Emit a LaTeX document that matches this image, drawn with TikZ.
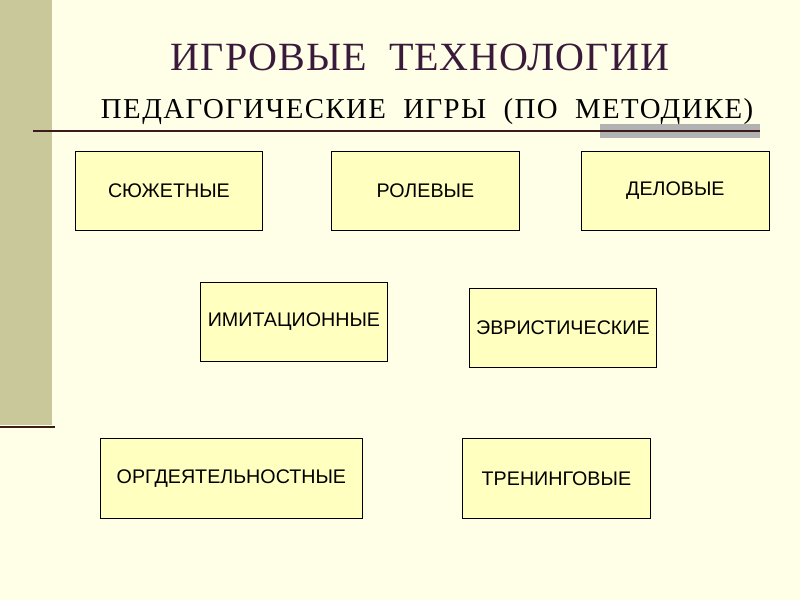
\documentclass[tikz,border=0pt]{standalone}
\usepackage{fontspec}
\setmainfont{Liberation Serif}
\newfontfamily\boxfont{Liberation Sans}
\newfontfamily\spacedfont[LetterSpace=5]{Liberation Serif}
\newfontfamily\titlefont[LetterSpace=2.5]{Liberation Serif}
\definecolor{bgcream}{HTML}{FFFFE8}
\definecolor{stripolive}{HTML}{C8C89A}
\definecolor{linemaroon}{HTML}{3A1A1A}
\definecolor{boxyellow}{HTML}{FFFFC0}
\definecolor{titlepurple}{HTML}{3A1A3A}
\tikzset{
  gamebox/.style={draw=black, fill=boxyellow, line width=0.6pt, inner sep=0pt,
    font=\boxfont\fontsize{14}{16}\selectfont, anchor=north west},
}
\begin{document}
\begin{tikzpicture}[x=0.025cm, y=-0.025cm]
	
	\fill[bgcream] (0,0) rectangle (800,600);
	\useasboundingbox (0,0) rectangle (800,600);
	
	\fill[stripolive] (0,0) rectangle (52,425);
	\draw[linemaroon, line width=1.6pt] (0,427) -- (55,427);
	
	\fill[gray!60] (600,124) rectangle (760,138);
	\draw[linemaroon, line width=1.6pt] (33,131) -- (760,131);
	
	\node[titlepurple, font=\titlefont\fontsize{28.5}{32}\selectfont] (title) at (420,57) {ИГРОВЫЕ\ \ ТЕХНОЛОГИИ};
	\node[font=\spacedfont\fontsize{20.5}{24}\selectfont, anchor=west] (subtitle) at (96,112) {ПЕДАГОГИЧЕСКИЕ\ \ ИГРЫ\ \ (ПО\ \ МЕТОДИКЕ)};
	
	\node[gamebox, minimum width=187*0.025cm, minimum height=79*0.025cm] (plot) at (75,151) {СЮЖЕТНЫЕ};
	\node[gamebox, minimum width=188*0.025cm, minimum height=79*0.025cm] (role) at (331,151) {РОЛЕВЫЕ};
	\node[gamebox, minimum width=188*0.025cm, minimum height=79*0.025cm] (business) at (581,151) {ДЕЛОВЫЕ};
	
	\node[gamebox, minimum width=187*0.025cm, minimum height=79*0.025cm] (imitation) at (200,282) {ИМИТАЦИОННЫЕ};
	\node[gamebox, minimum width=187*0.025cm, minimum height=79*0.025cm] (heuristic) at (469,288) {ЭВРИСТИЧЕСКИЕ};
	
	\node[gamebox, minimum width=262*0.025cm, minimum height=80*0.025cm] (orgact) at (100,438) {ОРГДЕЯТЕЛЬНОСТНЫЕ};
	\node[gamebox, minimum width=188*0.025cm, minimum height=80*0.025cm] (training) at (462,438) {ТРЕНИНГОВЫЕ};
	
\end{tikzpicture}
\end{document}
